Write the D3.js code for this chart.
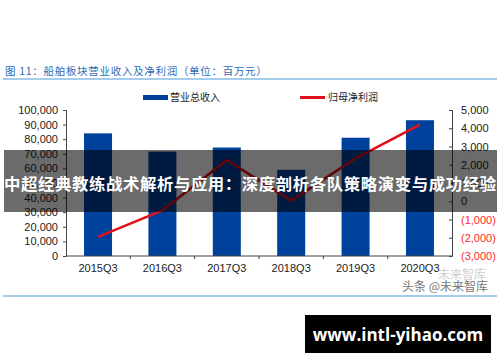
<!DOCTYPE html>
<html>
<head>
<meta charset="utf-8">
<script src="https://cdn.jsdelivr.net/npm/d3@7"></script>
<style>
  body { margin: 0; background: #fff; }
  svg { display: block; font-family: "Liberation Sans", Arial, sans-serif; }
</style>
</head>
<body>
<div id="chart"></div>
<script>
// data (单位：百万元)
const quarters = ["2015Q3", "2016Q3", "2017Q3", "2018Q3", "2019Q3", "2020Q3"]
const revenue = [84000, 71500, 74300, 59000, 81000, 93000]
const netProfit = [-1950, -500, 2250, 30, 2350, 4200]
const leftTicks = [0, 10000, 20000, 30000, 40000, 50000, 60000, 70000, 80000, 90000, 100000]
const rightTicks = [-3000, -2000, -1000, 0, 1000, 2000, 3000, 4000, 5000]

const width = 500, height = 362
const cjk = "'Noto Sans CJK SC', 'Noto Sans', sans-serif"

const svg = d3.select("#chart").append("svg")
    .attr("width", width)
    .attr("height", height)

// title + rule
svg.append("text")
    .attr("x", 5).attr("y", 75)
    .style("font-family", cjk)
    .style("font-size", "10.5px")
    .style("letter-spacing", "0.7px")
    .style("fill", "#2e6cb5")
    .text("图 11：船舶板块营业收入及净利润（单位：百万元）")

svg.append("line")
    .attr("x1", 3).attr("x2", 497).attr("y1", 79).attr("y2", 79)
    .style("stroke", "#86bde6").style("stroke-width", 1.6)

const x = d3.scaleBand().domain(quarters).range([66, 452]).paddingInner(0.565).paddingOuter(0.28)
const yL = d3.scaleLinear().domain([0, 100000]).range([256, 110])
const yR = d3.scaleLinear().domain([-3000, 5000]).range([256, 110])

// bars
svg.append("g").selectAll("rect")
    .data(revenue)
    .join("rect")
    .attr("x", (d, i) => x(quarters[i]))
    .attr("width", x.bandwidth())
    .attr("y", d => yL(d))
    .attr("height", d => yL(0) - yL(d))
    .style("fill", "#00429b")

// left axis
const axL = svg.append("g")
    .attr("transform", "translate(66,0)")
    .call(d3.axisLeft(yL).tickValues(leftTicks).tickSize(3).tickPadding(5).tickFormat(d3.format(",")))
axL.selectAll("text").style("font-size", "11px").style("fill", "#222")

// right axis
const fmtR = d => d < 0 ? "(" + d3.format(",")(-d) + ")" : d3.format(",")(d)
const axR = svg.append("g")
    .attr("transform", "translate(452,0)")
    .call(d3.axisRight(yR).tickValues(rightTicks).tickSize(-3).tickPadding(9).tickFormat(fmtR))
axR.selectAll("text").style("font-size", "11px").style("fill", d => d < 0 ? "#ff2a2a" : "#222")

// bottom axis, ticks between categories
const axB = svg.append("g").attr("transform", "translate(0,256)")
axB.append("line").attr("x1", 66).attr("x2", 452).style("stroke", "#444")
axB.selectAll("line.tk")
    .data(quarters.slice(1))
    .join("line")
    .attr("class", "tk")
    .attr("x1", d => x(d) - x.step() * x.paddingInner() / 2)
    .attr("x2", d => x(d) - x.step() * x.paddingInner() / 2)
    .attr("y1", 0).attr("y2", 3)
    .style("stroke", "#444")
axB.selectAll("text")
    .data(quarters)
    .join("text")
    .attr("x", d => x(d) + x.bandwidth() / 2)
    .attr("y", 16)
    .attr("text-anchor", "middle")
    .style("font-size", "11px").style("fill", "#222")
    .text(d => d)

svg.selectAll(".domain").style("stroke", "#444")
svg.selectAll(".tick line").style("stroke", "#444")

// profit line
const line = d3.line()
    .x((d, i) => x(quarters[i]) + x.bandwidth() / 2)
    .y(d => yR(d))
svg.append("path")
    .datum(netProfit)
    .attr("d", line)
    .style("fill", "none")
    .style("stroke", "#e2101c")
    .style("stroke-width", 2.6)

// legend
const lg = svg.append("g").style("font-family", cjk).style("font-size", "10px").style("fill", "#222")
lg.append("rect").attr("x", 143).attr("y", 95).attr("width", 25).attr("height", 5).style("fill", "#00429b")
lg.append("text").attr("x", 170).attr("y", 101).text("营业总收入")
lg.append("line").attr("x1", 300).attr("x2", 325).attr("y1", 97.5).attr("y2", 97.5)
    .style("stroke", "#e2101c").style("stroke-width", 3)
lg.append("text").attr("x", 328).attr("y", 101).text("归母净利润")

// watermarks
svg.append("text").attr("x", 438).attr("y", 279)
    .style("font-family", cjk).style("font-size", "12px").style("fill", "#cfcfcf")
    .text("未来智库")
svg.append("text").attr("x", 402).attr("y", 291)
    .style("font-family", cjk).style("font-size", "12px").style("fill", "#777")
    .text("头条 @未来智库")

svg.append("line")
    .attr("x1", 3).attr("x2", 497).attr("y1", 296).attr("y2", 296)
    .style("stroke", "#86bde6").style("stroke-width", 1.6)

// overlay banner
svg.append("rect")
    .attr("x", 4).attr("y", 150).attr("width", 493).attr("height", 62)
    .style("fill", "#000").style("opacity", 0.58)
svg.append("text")
    .attr("x", 250).attr("y", 190)
    .attr("text-anchor", "middle")
    .style("font-family", cjk).style("font-weight", "bold")
    .style("font-size", "16.4px").style("letter-spacing", "-0.1px")
    .attr("textLength", 492)
    .style("fill", "#fff")
    .text("中超经典教练战术解析与应用：深度剖析各队策略演变与成功经验")

// url box
svg.append("rect")
    .attr("x", 305).attr("y", 315).attr("width", 186).attr("height", 38)
    .style("fill", "#000")
svg.append("text")
    .attr("x", 398).attr("y", 341)
    .attr("text-anchor", "middle")
    .style("font-family", "'Open Sans', 'DejaVu Sans', sans-serif").style("font-weight", "bold")
    .style("font-size", "17px").style("fill", "#fff")
    .text("www.intl-yihao.com")
</script>
</body>
</html>
